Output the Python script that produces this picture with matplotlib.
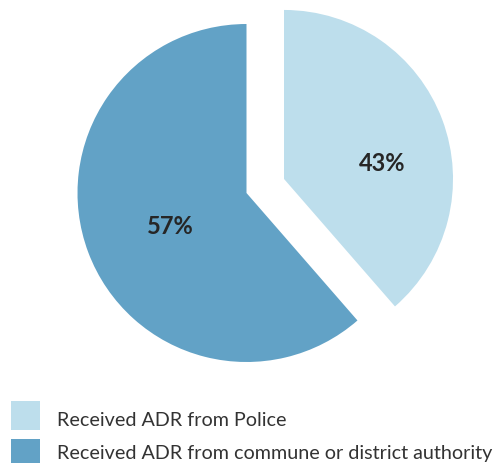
import matplotlib
matplotlib.use('Agg')
import matplotlib.pyplot as plt
import matplotlib.patches as mpatches

# ---- data ----
labels = ['Received ADR from Police', 'Received ADR from commune or district authority']
shares = [43, 57]                 # printed percentages
drawn_sizes = [38.6, 61.4]        # slice angles as actually drawn in the reference
colors = ['#bddeec', '#62a2c6']
explode = [0.237, 0.0]

W, H = 496, 464
fig = plt.figure(figsize=(W / 100, H / 100), dpi=100)
plt.rcParams['font.family'] = ['Lato', 'DejaVu Sans']

# pie axes: centre (246.5, 194) px, radius 169 px
cx, cy, r = 246.5, 194, 169
ax = fig.add_axes([(cx - r) / W, (H - cy - r) / H, 2 * r / W, 2 * r / H])
wedges, _ = ax.pie(drawn_sizes, colors=colors, explode=explode, startangle=90,
                   counterclock=False, radius=1.0)
for w in wedges:
    w.set_clip_on(False)
ax.set_xlim(-1, 1)
ax.set_ylim(-1, 1)
ax.set_aspect('equal')
ax.axis('off')

# percentage labels
label_pos = [(0.802, 0.180), (-0.453, -0.195)]
for (x, y), s in zip(label_pos, shares):
    ax.text(x, y, f'{s}%', ha='center', va='center', fontsize=17,
            fontweight='bold', color='#262626')

# ---- legend (manual) ----
box_top = [402, 440]
baselines = [425.7, 459]
for top, base, lab, col in zip(box_top, baselines, labels, colors):
    fig.patches.append(mpatches.Rectangle((11 / W, (H - top - 29) / H), 29 / W, 29 / H,
                                          transform=fig.transFigure, facecolor=col,
                                          edgecolor='none'))
    fig.text(57 / W, (H - base) / H, lab, ha='left', va='baseline', fontsize=14.2,
             color='#333333')

plt.savefig('out.png', dpi=100)
plt.close()
